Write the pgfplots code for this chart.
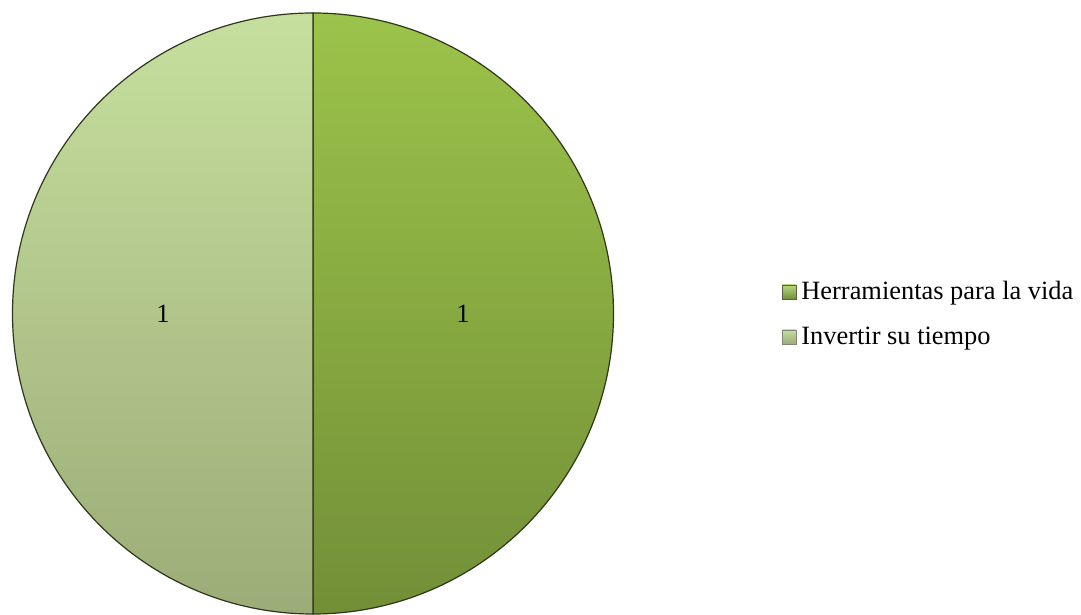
\documentclass[border=0pt]{standalone}
\usepackage{fontspec}
\setmainfont{Liberation Serif}
\usepackage{pgfplots}
\usepackage{pgfplotstable}
\usetikzlibrary{calc}
\pgfplotsset{compat=1.18}
\definecolor{gA}{RGB}{156,195,74}
\definecolor{gAb}{RGB}{114,143,55}
\definecolor{gB}{RGB}{198,223,158}
\definecolor{gBb}{RGB}{156,172,120}
\definecolor{edge}{RGB}{45,55,25}
\pgfplotstableread{
label value
H 1
I 1
}\piedata
\begin{document}
\begin{tikzpicture}
\pgfplotstablegetelem{0}{value}\of\piedata \let\va\pgfplotsretval
\pgfplotstablegetelem{1}{value}\of\piedata \let\vb\pgfplotsretval
\pgfmathsetmacro{\tot}{\va+\vb}
\pgfmathsetmacro{\aA}{90-360*\va/\tot}
\pgfmathsetmacro{\aB}{\aA-360*\vb/\tot}
\pgfmathsetmacro{\mA}{(90+\aA)/2}
\pgfmathsetmacro{\mB}{(\aA+\aB)/2}
\begin{axis}[x=0.5pt,y=0.5pt,xmin=0,xmax=1081,ymin=0,ymax=614,hide axis,clip=false]
\addplot[draw=none] coordinates {(0,0) (1081,614)};
% slice 1: Herramientas para la vida
\path[draw=edge, line width=0.6pt, top color=gA, bottom color=gAb]
  (axis cs:313,300.5) -- ++(90:150.25pt) arc[start angle=90,end angle=\aA,radius=150.25pt] -- cycle;
% slice 2: Invertir su tiempo
\path[draw=edge, line width=0.6pt, top color=gB, bottom color=gBb]
  (axis cs:313,300.5) -- ++(\aA:150.25pt) arc[start angle=\aA,end angle=\aB,radius=150.25pt] -- cycle;
\node[font=\fontsize{13.2}{15}\selectfont] at ($(axis cs:313,300.5)+(\mA:75pt)$) {\va};
\node[font=\fontsize{13.2}{15}\selectfont] at ($(axis cs:313,300.5)+(\mB:75pt)$) {\vb};
% legend
\path[draw=edge!80, line width=0.3pt, top color=gA!70!white, bottom color=gAb]
  (axis cs:782,315) rectangle (axis cs:796,329);
\path[draw=edge!60, line width=0.3pt, top color=gB, bottom color=gBb]
  (axis cs:782,270) rectangle (axis cs:796,284);
\node[anchor=base west, inner sep=0pt, font=\fontsize{13.2}{15}\selectfont] at (axis cs:801,314) {Herramientas para la vida};
\node[anchor=base west, inner sep=0pt, font=\fontsize{13.2}{15}\selectfont] at (axis cs:801,269) {Invertir su tiempo};
\end{axis}
\end{tikzpicture}
\end{document}
